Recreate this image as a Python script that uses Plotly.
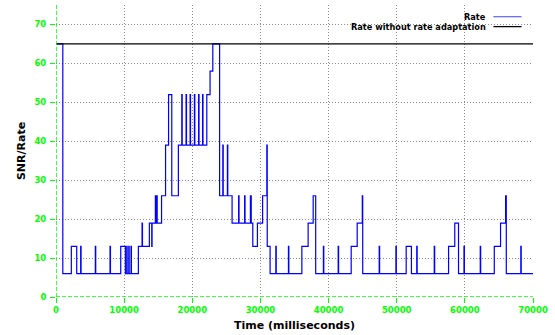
import plotly.graph_objects as go

# Rate trace: time (ms) at which the rate changes, and the new rate (Mbps)
change_ms = [
    0, 1000, 2250, 3040, 3620, 3680, 5770, 5830, 7930, 7990,
    9500, 10180, 10380, 10440, 10680, 10740, 11010, 11070,
    12090, 12630, 12690, 13700, 14050, 14100, 14580, 14640, 14790, 14850,
    15490, 16080, 16520, 16990, 17960,
    18460, 18520, 19090, 19150, 19680, 19740, 20310, 20370,
    20930, 20990, 21510, 21570, 22130, 22610, 23010,
    24010, 24480, 24540, 25150, 25210, 25840,
    26800, 26860, 27680, 27740, 28530, 28560, 28590, 28650,
    28880, 29560, 30320, 30940, 31000, 31420,
    32260, 32320, 34110, 34170, 36080, 37000, 37740, 38110,
    39240, 39300, 41410, 41470, 43320, 44200, 44950, 45010,
    47430, 47490, 49880, 49940, 51390, 52160, 52940, 53000,
    55510, 55570, 57610, 58520, 59070, 59870, 59930,
    62260, 62320, 64320, 65240, 65980, 66080, 68210, 68270, 70000,
]
rate_mbps = [
    65, 6, 13, 6, 13, 6, 13, 6, 13, 6,
    13, 6, 13, 6, 13, 6, 13, 6,
    13, 19, 13, 19, 13, 19, 26, 19, 26, 19,
    26, 39, 52, 26, 39,
    52, 39, 52, 39, 52, 39, 52, 39,
    52, 39, 52, 39, 52, 58, 65,
    26, 39, 26, 39, 26, 19,
    26, 19, 26, 19, 26, 19, 26, 19,
    13, 19, 26, 39, 13, 6,
    13, 6, 13, 6, 13, 19, 26, 6,
    13, 6, 13, 6, 13, 19, 26, 6,
    13, 6, 13, 6, 13, 6, 13, 6,
    13, 6, 13, 19, 6, 13, 6,
    13, 6, 13, 19, 26, 6, 13, 6, 6,
]

# Fixed rate used when adaptation is disabled
baseline_ms = [0, 70000]
baseline_rate = [65, 65]

x_ticks = [0, 10000, 20000, 30000, 40000, 50000, 60000, 70000]
y_ticks = [0, 10, 20, 30, 40, 50, 60, 70]

legend_names = ["Rate", "Rate without rate adaptation"]

GREEN = "#00ff00"
FONT = "DejaVu Sans"

fig = go.Figure()
fig.add_trace(go.Scatter(
    x=change_ms, y=rate_mbps, mode="lines", line_shape="hv",
    line=dict(color="#0000ff", width=1.2), name=legend_names[0],
))
fig.add_trace(go.Scatter(
    x=baseline_ms, y=baseline_rate, mode="lines",
    line=dict(color="#000000", width=1.2), name=legend_names[1],
))

axis_common = dict(
    showgrid=True, gridcolor="#8c8c8c", griddash="1px,2px", gridwidth=1,
    zeroline=False, showline=False,
    ticks="outside", ticklen=5, tickcolor=GREEN, tickwidth=1,
    tickfont=dict(family=FONT, size=8.5, color=GREEN, weight="bold"),
)

fig.update_xaxes(
    range=[0, 70000], tickvals=x_ticks, ticktext=[str(v) for v in x_ticks],
    title=dict(text="Time (milliseconds)", standoff=7,
               font=dict(family=FONT, size=11, color="#000000", weight="bold")),
    **axis_common,
)
fig.update_yaxes(
    range=[0, 75], tickvals=y_ticks, ticktext=[str(v) for v in y_ticks],
    ticklabelstandoff=2,
    title=dict(text="SNR/Rate", standoff=6,
               font=dict(family=FONT, size=11, color="#000000", weight="bold")),
    **axis_common,
)

# Dashed green axis lines along the left and bottom edges
fig.add_shape(type="line", xref="x", yref="paper", x0=0, x1=0, y0=0, y1=1,
              line=dict(color=GREEN, width=1.5, dash="4px,2px"), layer="above")
fig.add_shape(type="line", xref="paper", yref="y", x0=0, x1=1, y0=0, y1=0,
              line=dict(color=GREEN, width=1.5, dash="4px,2px"), layer="above")

# Key in the top-right corner: label followed by a line sample
legend_colors = ["#6a6aff", "#000000"]
legend_y = [0.960, 0.926]
for name, color, ly in zip(legend_names, legend_colors, legend_y):
    fig.add_annotation(
        xref="paper", yref="paper", x=0.906, y=ly, text=name,
        showarrow=False, xanchor="right", yanchor="middle",
        font=dict(family=FONT, size=8.2, color="#000000", weight="bold"),
    )
    fig.add_shape(type="line", xref="paper", yref="paper",
                  x0=0.917, x1=0.976, y0=ly, y1=ly,
                  line=dict(color=color, width=1.3))

fig.update_layout(
    width=555, height=335,
    margin=dict(l=56, r=22, t=5, b=38),
    paper_bgcolor="#ffffff", plot_bgcolor="#ffffff",
    showlegend=False,
    font=dict(family=FONT),
)

fig.write_html("out.html")
